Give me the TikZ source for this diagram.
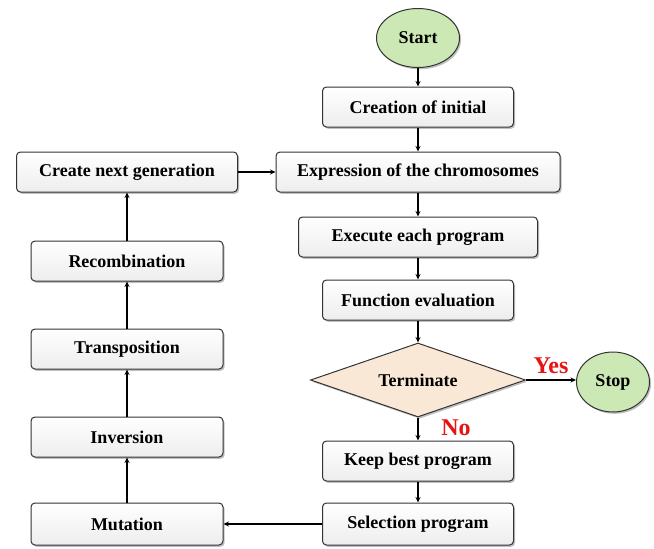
\documentclass[tikz,border=0pt]{standalone}
\usepackage{fontspec}
\setmainfont{Liberation Serif}
\usetikzlibrary{shapes.geometric,shadows,arrows.meta}
\definecolor{startgreen}{RGB}{204,232,180}
\definecolor{diamfill}{RGB}{250,232,214}
\definecolor{yesred}{RGB}{230,20,20}
\begin{document}
\begin{tikzpicture}[x=1pt,y=-1pt,
  font=\fontsize{18}{20}\selectfont\bfseries,
  procbox/.style={draw=black!80,line width=1pt,rounded corners=4pt,top color=white,bottom color=black!7,
    minimum height=40pt,inner sep=0pt,
    drop shadow={shadow xshift=1.6pt,shadow yshift=-1.8pt,opacity=0.5}},
  termin/.style={ellipse,draw=black!80,line width=1pt,fill=startgreen,inner sep=0pt,
    drop shadow={shadow xshift=1.6pt,shadow yshift=-1.8pt,opacity=0.5}},
  decis/.style={diamond,draw=black!80,line width=1pt,fill=diamfill,inner sep=0pt,aspect=2.9,
    drop shadow={shadow xshift=1.6pt,shadow yshift=-1.8pt,opacity=0.5}},
  conn/.style={line width=1.2pt,-{Stealth[length=5.5pt,width=5pt]}},
  lbl/.style={text=yesred,font=\fontsize{24}{26}\selectfont\bfseries}
]
\useasboundingbox (0,0) rectangle (654,549);
\node[termin,minimum width=83pt,minimum height=59pt] (start) at (418,38) {Start};
\node[procbox,minimum width=191pt] (creat) at (418,107) {Creation of initial};
\node[procbox,minimum width=284pt] (expr) at (418,172) {Expression of the chromosomes};
\node[procbox,minimum width=239pt] (exec) at (418,237) {Execute each program};
\node[procbox,minimum width=191pt] (func) at (418,300) {Function evaluation};
\node[decis,minimum width=215pt,minimum height=74pt] (term) at (418,380) {Terminate};
\node[termin,minimum width=73pt,minimum height=60pt] (stop) at (613,382) {Stop};
\node[procbox,minimum width=191pt] (keep) at (418,461) {Keep best program};
\node[procbox,minimum width=191pt,minimum height=42pt] (sel) at (418,524) {Selection program};
\node[procbox,minimum width=192pt,minimum height=42pt] (mut) at (127,524) {Mutation};
\node[procbox,minimum width=192pt] (inv) at (127,437) {Inversion};
\node[procbox,minimum width=192pt] (trans) at (127,349) {Transposition};
\node[procbox,minimum width=192pt] (recomb) at (127,261) {Recombination};
\node[procbox,minimum width=221pt] (next) at (127,172) {Create next generation};
\node[lbl] (yes) at (551,366) {Yes};
\node[lbl] (no) at (456,428) {No};
\draw[conn] (start) -- (creat);
\draw[conn] (creat) -- (expr);
\draw[conn] (expr) -- (exec);
\draw[conn] (exec) -- (func);
\draw[conn] (func) -- (term);
\draw[conn] (term.east) -- (stop.west |- term.east);
\draw[conn] (term) -- (keep);
\draw[conn] (keep) -- (sel);
\draw[conn] (sel) -- (mut);
\draw[conn] (mut) -- (inv);
\draw[conn] (inv) -- (trans);
\draw[conn] (trans) -- (recomb);
\draw[conn] (recomb) -- (next);
\draw[conn] (next) -- (expr);
\end{tikzpicture}
\end{document}
